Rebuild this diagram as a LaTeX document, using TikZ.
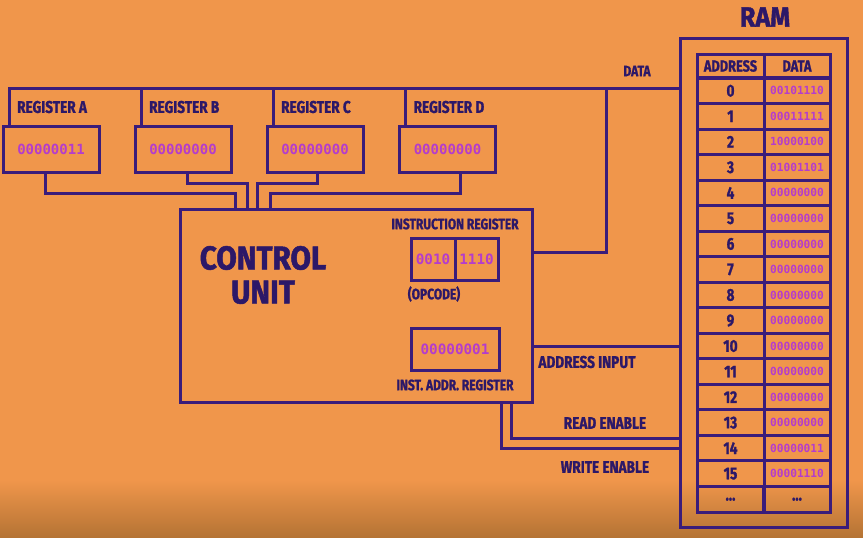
\documentclass[tikz,border=0pt]{standalone}
\usepackage{fontspec}
\newfontfamily\labfont[FakeStretch=0.8,FakeBold=1.2]{Fira Sans}
\newfontfamily\bigfont[FakeStretch=0.9,FakeBold=1.5]{Fira Sans}
\newfontfamily\monofont{DejaVu Sans Mono}
\usetikzlibrary{calc}
\definecolor{bg}{RGB}{240,150,75}
\definecolor{bgdark}{RGB}{180,115,52}
\definecolor{ln}{RGB}{58,28,122}
\definecolor{tx}{RGB}{44,24,104}
\definecolor{mg}{RGB}{180,60,205}
\begin{document}
\begin{tikzpicture}[x=1pt,y=-1pt,
  wire/.style={draw=ln,line width=3pt},
  box/.style={draw=ln,line width=3pt,inner sep=0pt,outer sep=0pt},
  regbox/.style={box,minimum width=96pt,minimum height=46pt,text=mg,font=\monofont\bfseries\fontsize{14pt}{14pt}\selectfont},
  irbox/.style={box,minimum height=42pt,text=mg,font=\monofont\bfseries\fontsize{14.3pt}{14pt}\selectfont},
  cell/.style={box,minimum height=25.53pt},
  addrcell/.style={cell,minimum width=67pt,text=tx,font=\labfont\bfseries\fontsize{17pt}{17pt}\selectfont},
  datacell/.style={cell,minimum width=66pt,text=mg,font=\monofont\bfseries\fontsize{11.2pt}{11pt}\selectfont},
  lab/.style={text=tx,inner sep=0pt,font=\labfont\bfseries\fontsize{17pt}{17pt}\selectfont},
  slab/.style={text=tx,inner sep=0pt,font=\labfont\bfseries\fontsize{15pt}{15pt}\selectfont},
  big/.style={text=tx,inner sep=0pt,align=center,font=\bigfont\bfseries\fontsize{33pt}{34pt}\selectfont}]
\useasboundingbox (0,0) rectangle (863,538);
\fill[bg] (0,0) rectangle (863,538);
\shade[top color=bg,bottom color=bgdark] (0,480) rectangle (863,538);

% registers
\node[regbox] (ra) at (51,149) {00000011};
\node[regbox] (rb) at (183,149) {00000000};
\node[regbox] (rc) at (315,149) {00000000};
\node[regbox] (rd) at (447.5,149) {00000000};
\node[lab,anchor=west] (la) at ($(ra.north west)+(14,-19)$) {REGISTER A};
\node[lab,anchor=west] (lb) at ($(rb.north west)+(14,-19)$) {REGISTER B};
\node[lab,anchor=west] (lc) at ($(rc.north west)+(14,-19)$) {REGISTER C};
\node[lab,anchor=west] (ld) at ($(rd.north west)+(14,-19)$) {REGISTER D};

% control unit
\node[box,minimum width=352pt,minimum height=193pt] (cu) at (356,305.5) {};
\node[big] (cut) at (263,275) {CONTROL\\UNIT};
\node[irbox,minimum width=44pt] (ir1) at (433,259) {0010};
\node[irbox,minimum width=43pt] (ir2) at (476.5,259) {1110};
\node[slab] (irl) at (455,224) {INSTRUCTION REGISTER};
\node[slab] (opc) at (434,294) {(OPCODE)};
\node[irbox,minimum width=88pt] (iar) at (455,349) {00000001};
\node[slab] (iarl) at (455,385) {INST. ADDR. REGISTER};

% RAM
\node[box,minimum width=167pt,minimum height=489pt] (ramo) at (763.5,282.5) {};
\node[big,font=\bigfont\bfseries\fontsize{28pt}{28pt}\selectfont] (raml) at (765,17) {RAM};
\node[addrcell,font=\labfont\bfseries\fontsize{16pt}{16pt}\selectfont,minimum height=24pt] (ha) at (730.5,66) {ADDRESS};
\node[addrcell,font=\labfont\bfseries\fontsize{16pt}{16pt}\selectfont,minimum width=66pt,minimum height=24pt] (hd) at (797,66) {DATA};
\foreach \i/\d in {0/00101110,1/00011111,2/10000100,3/01001101,4/00000000,5/00000000,6/00000000,7/00000000,8/00000000,9/00000000,10/00000000,11/00000000,12/00000000,13/00000000,14/00000011,15/00001110}{
  \node[addrcell] (a\i) at (730.5,90.76+\i*25.53) {\i};
  \node[datacell] (d\i) at (797,90.76+\i*25.53) {\d};
}
\node[addrcell] (a16) at (730.5,90.76+16*25.53) {\textbf{...}};
\node[addrcell] (d16) at (797,90.76+16*25.53) {\textbf{...}};

% wire labels
\node[slab] (ldata) at (637,71) {DATA};
\node[lab] (lai) at (587,362) {ADDRESS INPUT};
\node[lab] (lre) at (605,423) {READ ENABLE};
\node[lab] (lwe) at (605,467) {WRITE ENABLE};

% helper coordinates
\coordinate (yb) at (0,88);
\coordinate (yd) at (0,252);
\coordinate (ya) at (0,346);
\coordinate (yr) at (0,438);
\coordinate (yw) at (0,448);
\coordinate (xj) at (606,0);

% data bus
\draw[wire] ($(ra.north west)+(6,0)$) |- (ramo.west |- yb);
\path ($(rb.north west)+(6,0)$) coordinate (tb)
      ($(rc.north west)+(6,0)$) coordinate (tc)
      ($(rd.north west)+(6,0)$) coordinate (td);
\draw[wire] (tb) -- (tb |- yb);
\draw[wire] (tc) -- (tc |- yb);
\draw[wire] (td) -- (td |- yb);
\draw[wire] (cu.east |- yd) -| (xj |- yb);

% registers to control unit
\draw[wire] ($(ra.south west)+(42,0)$) -- ++(0,21) -| ($(cu.north west)+(55,0)$);
\draw[wire] ($(rb.south west)+(52,0)$) -- ++(0,11) -| ($(cu.north west)+(67,0)$);
\draw[wire] ($(rc.south west)+(50,0)$) -- ++(0,11) -| ($(cu.north west)+(77,0)$);
\draw[wire] ($(rd.south west)+(61,0)$) -- ++(0,21) -| ($(cu.north west)+(90,0)$);

% control unit to RAM
\draw[wire] (cu.east |- ya) -- (ramo.west |- ya);
\draw[wire] ($(cu.south east)+(-21,0)$) |- (ramo.west |- yr);
\draw[wire] ($(cu.south east)+(-31,0)$) |- (ramo.west |- yw);
\end{tikzpicture}
\end{document}
